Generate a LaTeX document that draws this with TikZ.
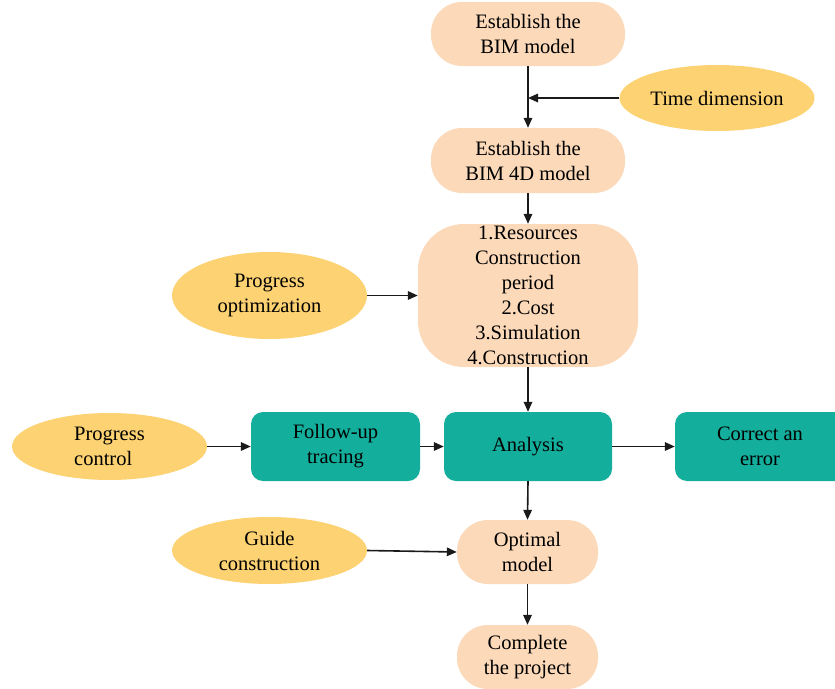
\documentclass[tikz,border=0pt]{standalone}
\usepackage{fontspec}
\setmainfont{Liberation Serif}
\usetikzlibrary{shapes.geometric,arrows.meta}
\definecolor{peach}{HTML}{FBD9B9}
\definecolor{ellyel}{HTML}{FCD272}
\definecolor{tealbox}{HTML}{14AE9C}
\definecolor{linecol}{HTML}{1A1A1A}
\tikzset{
  base/.style={inner sep=0pt, align=center, font=\fontsize{20.5}{25}\selectfont, text=black},
  pill/.style={base, fill=peach, rounded corners=31pt, minimum width=194pt, minimum height=64pt},
  oval/.style={base, ellipse, fill=ellyel, minimum width=195pt, minimum height=66pt},
  tealrect/.style={base, fill=tealbox, rounded corners=12pt, minimum width=169pt, minimum height=69pt},
  conn/.style={draw=linecol, line width=1.6pt, -{Triangle[length=10pt,width=8.5pt]}}
}
\begin{document}
\begin{tikzpicture}[x=1pt,y=-1pt]
\useasboundingbox (0,0) rectangle (835,688);
\fill[white] (0,0) rectangle (835,688);
\node[pill] (bim) at (528,34) {Establish the\\BIM model};
\node[oval, minimum height=66pt] (time) at (717,98) {Time dimension};
\node[pill, minimum height=65pt] (bim4d) at (528,160.5) {Establish the\\BIM 4D model};
\node[base, fill=peach, rounded corners=46pt, minimum width=220pt, minimum height=143pt] (big) at (528,295.5)
  {1.Resources\\Construction\\period\\2.Cost\\3.Simulation\\4.Construction};
\node[oval, minimum height=87pt] (popt) at (269.5,295.5) {Progress\\optimization};
\node[oval, minimum height=67pt, align=left] (pctl) at (109.5,446.5) {Progress\\control};
\node[tealrect] (fut) at (335.5,446.5) {Follow-up\\tracing};
\node[tealrect, minimum width=168pt] (ana) at (528,446.5) {Analysis};
\node[tealrect, minimum width=180pt] (cor) at (765,446.5) {\hspace*{-10pt}Correct an\\\hspace*{-10pt}error};
\node[oval, minimum height=67pt] (guide) at (269.5,550.5) {Guide\\construction};
\node[pill, minimum width=141pt] (opt) at (527.5,552) {Optimal\\model};
\node[pill, minimum width=141pt] (comp) at (527.5,657) {Complete\\the project};
\coordinate (tj) at (bim.south |- time.west);
\draw[conn] (bim.south) -- (bim4d.north);
\draw[conn] (time.west) -- (tj);
\draw[conn] (bim4d.south) -- (big.north);
\draw[conn] (popt.east) -- (big.west |- popt.east);
\draw[conn] (big.south) -- (ana.north);
\draw[conn] (pctl.east) -- (fut.west);
\draw[conn] (fut.east) -- (ana.west);
\draw[conn] (ana.east) -- (cor.west);
\draw[conn] (ana.south) -- (opt.north);
\draw[conn] (guide.east) -- (opt.west);
\draw[conn] (opt.south) -- (comp.north);
\end{tikzpicture}
\end{document}
